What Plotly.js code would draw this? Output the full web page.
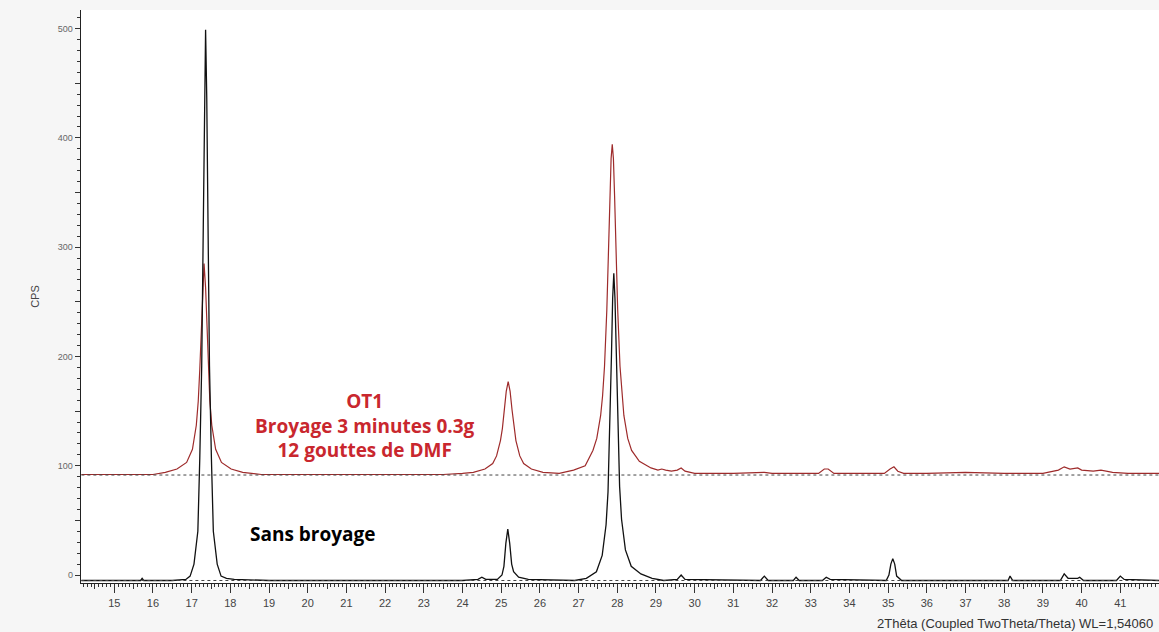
<!DOCTYPE html>
<html>
<head>
<meta charset="utf-8">
<script src="https://cdn.plot.ly/plotly-3.0.1.min.js"></script>
<style>html,body{margin:0;padding:0;background:#f6f6f6;}#chart{width:1159px;height:632px;}</style>
</head>
<body>
<div id="chart"></div>
<script>
// Sans broyage (black)
const blackX = [14.15,15.0,15.68,15.72,15.76,16.0,16.5,16.85,16.96,17.06,17.16,17.21,17.26,17.30,17.33,17.36,17.39,17.42,17.46,17.51,17.56,17.66,17.76,17.9,18.1,19.0,20.0,21.0,22.0,23.0,24.0,24.4,24.5,24.6,24.9,25.02,25.07,25.12,25.17,25.22,25.27,25.32,25.45,25.7,26.9,27.2,27.46,27.61,27.71,27.76,27.81,27.85,27.88,27.91,27.94,27.97,28.01,28.06,28.11,28.21,28.36,28.61,28.9,29.2,29.55,29.65,29.75,31.7,31.8,31.9,32.55,32.62,32.7,33.3,33.4,33.5,34.95,35.02,35.07,35.12,35.17,35.22,35.35,38.1,38.15,38.22,39.45,39.55,39.65,39.9,39.95,40.05,40.9,41.0,41.1,42.0];
const blackY = [-5,-5,-5,-3,-5,-5,-5,-4,-1,10,40,107,192,318,437,499,437,318,192,107,40,10,-1,-3,-4,-5,-5,-5,-5,-5,-5,-4,-2,-4,-4,0,8,29,42,29,10,3,-2,-4,-5,-3,3,18,46,76,135,202,253,276,253,202,135,81,51,23,8,1,-3,-5,-4,0,-4,-5,-1,-5,-5,-2,-5,-5,-2,-4,-5,0,10,15,10,-1,-5,-5,-1,-5,-5,1,-3,-3,-2,-5,-5,-1,-4,-5];

// OT1 Broyage 3 minutes 0.3g, 12 gouttes de DMF (red)
const redX = [14.15,15.0,15.5,16.0,16.32,16.62,16.87,17.02,17.12,17.17,17.21,17.24,17.28,17.32,17.36,17.40,17.43,17.47,17.52,17.62,17.77,18.02,18.32,18.8,19.5,20.5,21.5,22.5,23.5,24.0,24.28,24.58,24.78,24.88,24.98,25.03,25.08,25.13,25.18,25.23,25.28,25.33,25.38,25.48,25.58,25.78,26.08,26.5,26.87,27.17,27.37,27.47,27.57,27.62,27.67,27.73,27.77,27.81,27.84,27.87,27.90,27.93,27.97,28.01,28.07,28.12,28.17,28.27,28.37,28.57,28.87,29.05,29.15,29.25,29.4,29.55,29.65,29.75,30.0,31.0,31.8,32.0,33.2,33.35,33.45,33.6,34.9,35.05,35.15,35.25,35.4,36.0,37.0,38.0,39.0,39.4,39.55,39.7,39.9,40.0,40.3,40.5,40.8,41.2,42.0];
const redY = [92,92,92,92,94,97,103,115,137,159,188,218,263,285,263,218,188,159,137,115,103,97,94,92,92,92,92,92,92,93,94,97,102,109,123,134,151,168,177,168,151,134,123,109,102,97,94,93,96,100,114,125,146,164,191,243,292,347,381,394,381,347,292,243,191,164,146,125,114,104,98,96,97,96,95,96,98,95,93,93,94,93,93,97,97,93,93,97,99,95,93,93,94,93,93,96,99,97,98,96,95,96,94,93,93];

// Background (dashed) lines
const bgX = [14.15, 42.0];
const blackBg = [-5, -5];
const redBg = [91.5, 91.5];

const xLabels = [15,16,17,18,19,20,21,22,23,24,25,26,27,28,29,30,31,32,33,34,35,36,37,38,39,40,41,42];
const yTickVals = [0,50,100,150,200,250,300,350,400,450,500];
const yTickText = ['0','','100','','200','','300','','400','','500'];

const XR = [14.14, 42.0];
const YR = [-7.3, 517];

const traces = [
  {x: bgX, y: redBg, xaxis:'x2', yaxis:'y', mode:'lines', line:{color:'#444', width:1, dash:'3px,3px'}, hoverinfo:'skip'},
  {x: bgX, y: blackBg, xaxis:'x2', yaxis:'y', mode:'lines', line:{color:'#444', width:1, dash:'3px,3px'}, hoverinfo:'skip'},
  {x: redX, y: redY, mode:'lines', line:{color:'#9e2b2b', width:1.2}},
  {x: blackX, y: blackY, mode:'lines', line:{color:'#111', width:1.3}}
];

const layout = {
  width:1159, height:632,
  paper_bgcolor:'#f6f6f6', plot_bgcolor:'#ffffff',
  margin:{l:81, r:0, t:10, b:49},
  showlegend:false,
  font:{family:'"Liberation Sans", Arial, sans-serif', color:'#444'},
  xaxis:{range:XR, tickmode:'array', tickvals:xLabels, ticktext:xLabels.map(String),
    ticks:'outside', ticklen:9, tickcolor:'#333', tickwidth:1,
    showline:true, linecolor:'#222', linewidth:1.3, showgrid:false, zeroline:false,
    tickfont:{size:11, color:'#444'},
    minor:{dtick:0.1, tick0:0, ticks:'outside', ticklen:3, tickcolor:'#333', showgrid:false}},
  xaxis2:{range:XR, overlaying:'x', dtick:0.5, tick0:0, ticks:'outside', ticklen:5, tickcolor:'#333',
    showticklabels:false, showline:false, showgrid:false, zeroline:false, anchor:'y'},
  yaxis:{range:YR, tickmode:'array', tickvals:yTickVals, ticktext:yTickText,
    ticks:'outside', ticklen:5, tickcolor:'#333', tickwidth:1,
    showline:true, linecolor:'#222', linewidth:1.3, showgrid:false, zeroline:false,
    tickfont:{size:9, color:'#666'},
    minor:{dtick:10, tick0:0, ticks:'outside', ticklen:3, tickcolor:'#333', showgrid:false},
    title:{text:'CPS', font:{size:11, color:'#444'}, standoff:16}},
  annotations:[
    {x:21.49, y:137, xref:'x', yref:'y', showarrow:false,
     text:'<b>OT1</b><br><b>Broyage 3 minutes 0.3g</b><br><b>12 gouttes de DMF</b>',
     font:{family:'"Open Sans", sans-serif', size:19, color:'#c9272e'}, align:'center'},
    {x:20.12, y:37.6, xref:'x', yref:'y', showarrow:false,
     text:'<b>Sans broyage</b>',
     font:{family:'"Open Sans", sans-serif', size:19, color:'#000'}},
    {x:1, y:-0.07, xref:'paper', yref:'paper', xanchor:'right', yanchor:'middle', xshift:-4, showarrow:false,
     text:'2Thêta (Coupled TwoTheta/Theta) WL=1,54060',
     font:{family:'"Liberation Sans", Arial, sans-serif', size:13, color:'#333'}}
  ]
};

Plotly.newPlot('chart', traces, layout, {displayModeBar:false, staticPlot:true});
</script>
</body>
</html>
